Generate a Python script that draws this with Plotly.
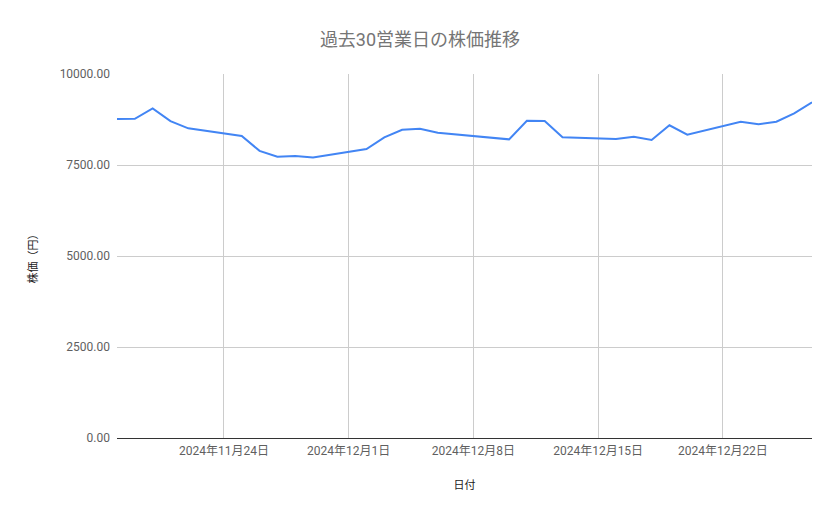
import plotly.graph_objects as go

# 過去30営業日の株価
dates = [
    "2024-11-18", "2024-11-19", "2024-11-20", "2024-11-21", "2024-11-22",
    "2024-11-25", "2024-11-26", "2024-11-27", "2024-11-28", "2024-11-29",
    "2024-12-02", "2024-12-03", "2024-12-04", "2024-12-05", "2024-12-06",
    "2024-12-09", "2024-12-10", "2024-12-11", "2024-12-12", "2024-12-13",
    "2024-12-16", "2024-12-17", "2024-12-18", "2024-12-19", "2024-12-20",
    "2024-12-23", "2024-12-24", "2024-12-25", "2024-12-26", "2024-12-27",
]
prices = [
    8763, 8771, 9056, 8705, 8507,
    8296, 7888, 7727, 7746, 7708,
    7939, 8260, 8469, 8497, 8387,
    8250, 8205, 8716, 8708, 8260,
    8213, 8277, 8186, 8590, 8332,
    8689, 8617, 8689, 8918, 9222,
]

x_tick_dates = ["2024-11-24", "2024-12-01", "2024-12-08", "2024-12-15", "2024-12-22"]
x_tick_labels = ["2024年11月24日", "2024年12月1日", "2024年12月8日", "2024年12月15日", "2024年12月22日"]
y_ticks = [0, 2500, 5000, 7500, 10000]

font_family = "Roboto, 'Noto Sans CJK JP', sans-serif"

fig = go.Figure()
fig.add_trace(go.Scatter(
    x=dates,
    y=prices,
    mode="lines",
    line=dict(color="#4285F4", width=2),
    hoverinfo="x+y",
))

# the page body adds ~8px on the left and top, so margins are offset for it
fig.update_layout(
    width=839,
    height=519,
    margin=dict(l=109, r=35, t=66, b=89),
    paper_bgcolor="white",
    plot_bgcolor="white",
    showlegend=False,
    font=dict(family=font_family, size=12, color="#444444"),
    title=dict(
        text="過去30営業日の株価推移",
        x=(420 - 8) / 839,
        xanchor="center",
        y=1 - 32 / 519,
        yanchor="middle",
        font=dict(family=font_family, size=18, color="#757575"),
    ),
    xaxis=dict(
        type="date",
        range=["2024-11-18", "2024-12-27"],
        tickvals=x_tick_dates,
        ticktext=x_tick_labels,
        showgrid=True,
        gridcolor="#cccccc",
        gridwidth=1,
        showline=True,
        linecolor="#333333",
        linewidth=1,
        zeroline=False,
        ticks="",
        ticklabelstandoff=2,
        tickfont=dict(size=12, color="#5f5f5f"),
        title=dict(text="日付", font=dict(size=11, color="#222222"), standoff=23),
    ),
    yaxis=dict(
        range=[0, 10000],
        tickvals=y_ticks,
        tickformat=".2f",
        showgrid=True,
        gridcolor="#cccccc",
        gridwidth=1,
        zeroline=False,
        ticks="",
        ticklabelstandoff=6,
        tickfont=dict(size=12, color="#5f5f5f"),
        title=dict(text="株価（円）", font=dict(size=11, color="#222222"), standoff=19),
    ),
)

fig.write_html("out.html")
